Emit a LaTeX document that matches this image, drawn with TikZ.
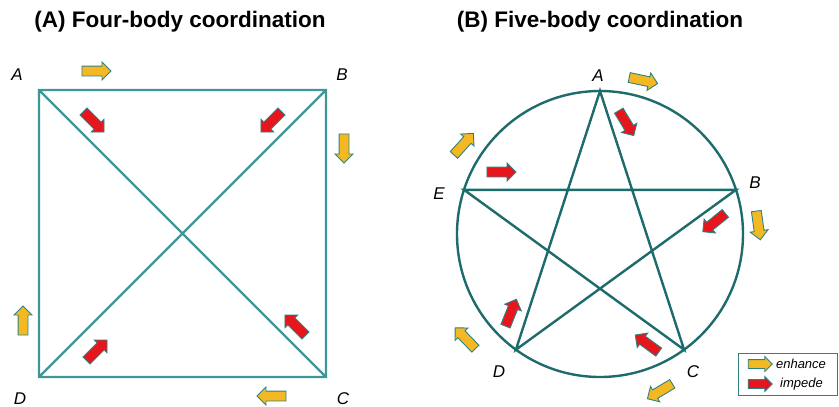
\documentclass[tikz,border=0pt]{standalone}
\usepackage{fontspec}
\setmainfont{Liberation Sans}
\usetikzlibrary{shapes.arrows}
\definecolor{sqline}{HTML}{3E9696}
\definecolor{starline}{HTML}{1E6B6B}
\definecolor{arrowrim}{HTML}{2E8282}
\definecolor{enhcol}{HTML}{F4B922}
\definecolor{impcol}{HTML}{E6161C}
\tikzset{
  blockarrow/.style={single arrow,draw=arrowrim,line width=0.9pt,inner xsep=0pt,inner ysep=4.5pt,
    minimum height=29pt,minimum width=17pt,single arrow head extend=4pt},
  enh/.style={blockarrow,fill=enhcol},
  imp/.style={blockarrow,fill=impcol},
  vlabel/.style={font=\fontsize{17}{20}\selectfont\itshape},
  ttl/.style={font=\fontsize{22.5}{26}\selectfont\bfseries},
}
\begin{document}
\begin{tikzpicture}[x=1pt,y=-1pt]
  \useasboundingbox (0,0) rectangle (839,407);
  % (A) square
  \node[ttl] (titleA) at (180,22) {(A) Four-body coordination};
  \coordinate (sA) at (39,90);
  \coordinate (sB) at (326,90);
  \coordinate (sC) at (326,377);
  \coordinate (sD) at (39,377);
  \draw[sqline,line width=2.4pt] (sA) -- (sB) -- (sC) -- (sD) -- cycle (sA) -- (sC) (sB) -- (sD);
  \node[vlabel] (labA) at (17,75) {A};
  \node[vlabel] (labB) at (342,75) {B};
  \node[vlabel] (labC) at (343,399) {C};
  \node[vlabel] (labD) at (20,399) {D};
  \node[enh] (enhAB) at (94,71) {};
  \node[enh,rotate=-90] (enhBC) at (344,146) {};
  \node[enh,rotate=180] (enhCD) at (274,396) {};
  \node[enh,rotate=90] (enhDA) at (23,323) {};
  \node[imp,rotate=-45] (impA) at (92,120) {};
  \node[imp,rotate=-135] (impB) at (273,120) {};
  \node[imp,rotate=135] (impC) at (297,327) {};
  \node[imp,rotate=45] (impD) at (95,352) {};
  % (B) pentagram
  \node[ttl] (titleB) at (600,22) {(B) Five-body coordination};
  \coordinate (ctr) at (600,234);
  \coordinate (pA) at (600,91);
  \coordinate (pB) at (736,189.8);
  \coordinate (pC) at (684.1,349.7);
  \coordinate (pD) at (515.9,349.7);
  \coordinate (pE) at (464,189.8);
  \draw[starline,line width=2.4pt] (ctr) circle[radius=143];
  \draw[starline,line width=2.4pt,line join=miter] (pA) -- (pC) -- (pE) -- (pB) -- (pD) -- cycle;
  \node[vlabel] (plabA) at (598,76) {A};
  \node[vlabel] (plabB) at (755,183) {B};
  \node[vlabel] (plabC) at (693,372) {C};
  \node[vlabel] (plabD) at (499,372) {D};
  \node[vlabel] (plabE) at (439,194) {E};
  \node[enh,rotate=-12] (penhA) at (641,80) {};
  \node[enh,rotate=-82] (penhB) at (758,223) {};
  \node[enh,rotate=-149] (penhC) at (662,390) {};
  \node[enh,rotate=134] (penhD) at (467,340) {};
  \node[enh,rotate=48] (penhE) at (462,146) {};
  \node[imp,rotate=-59] (pimpA) at (625,121) {};
  \node[imp,rotate=-141] (pimpB) at (716,221) {};
  \node[imp,rotate=144] (pimpC) at (649,345) {};
  \node[imp,rotate=68] (pimpD) at (510,315) {};
  \node[imp] (pimpE) at (499,172) {};
  % legend
  \node[draw=arrowrim,line width=1pt,fill=white,minimum width=99pt,minimum height=42pt] (legend) at (788,374) {};
  \node[enh,minimum height=24pt,minimum width=14pt,inner ysep=4pt,single arrow head extend=3pt] (legEnh) at (758,364) {};
  \node[imp,minimum height=24pt,minimum width=14pt,inner ysep=4pt,single arrow head extend=3pt] (legImp) at (758,384) {};
  \node[font=\fontsize{13}{15}\selectfont\itshape] (txtEnh) at (801,364) {enhance};
  \node[font=\fontsize{13}{15}\selectfont\itshape] (txtImp) at (801.5,384) {impede};
\end{tikzpicture}
\end{document}
